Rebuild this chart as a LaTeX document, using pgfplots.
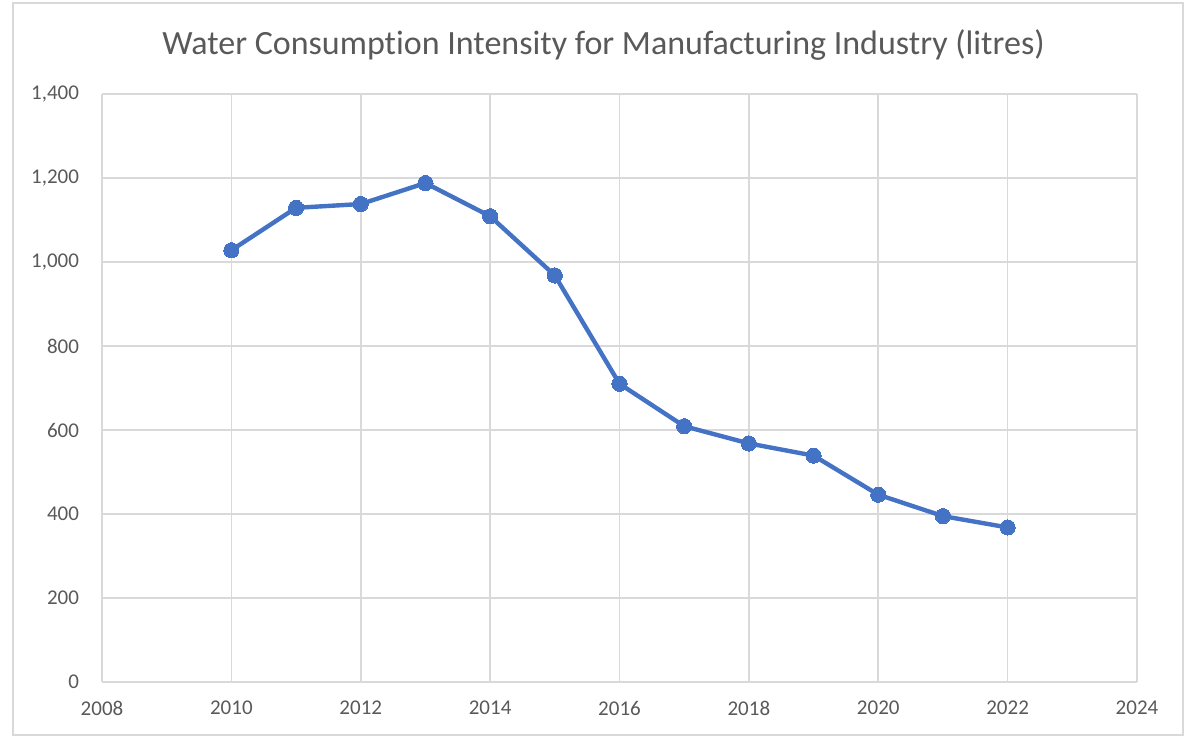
\documentclass[border=0pt]{standalone}
\usepackage{pgfplots}
\pgfplotsset{compat=1.18}
\usepackage{fontspec}
\setmainfont{Carlito}[Ligatures=NoCommon]
\definecolor{txt}{HTML}{595959}
\definecolor{grd}{HTML}{D9D9D9}
\definecolor{ser}{HTML}{4472C4}
\begin{document}
\begin{tikzpicture}
\useasboundingbox (0,0) rectangle (594pt,-369pt);
\draw[grd, line width=0.6pt] (6.5pt,-1.5pt) rectangle (591.5pt,-367.5pt);
\node[text=txt, font=\fontsize{17pt}{20pt}\selectfont] at (301.75pt,-22.5pt) {Water Consumption Intensity for Manufacturing Industry (litres)};
\begin{axis}[
  at={(51pt,-47pt)}, anchor=north west,
  width=517.5pt, height=294pt, scale only axis,
  xmin=2008, xmax=2024, ymin=0, ymax=1400,
  xtick={2008,2010,...,2024}, ytick={0,200,...,1400},
  grid=major, grid style={grd, line width=0.8pt},
  axis line style={draw=none},
  major tick length=0pt,
  tick label style={text=txt, font=\fontsize{10.5pt}{12pt}\selectfont},
  /pgf/number format/assume math mode=true,
  x tick label style={/pgf/number format/1000 sep={}, yshift=-6pt},
  y tick label style={/pgf/number format/1000 sep={,}, xshift=-8pt},
  clip=false,
]
\addplot[ser, line width=2.2pt, mark=*, mark size=3.8pt, mark options={fill=ser, draw=ser, line width=0pt}]
coordinates {
(2010,1028) (2011,1129) (2012,1138) (2013,1188) (2014,1109) (2015,968)
(2016,710) (2017,609) (2018,568) (2019,539) (2020,446) (2021,395) (2022,368)
};
\end{axis}
\end{tikzpicture}
\end{document}
